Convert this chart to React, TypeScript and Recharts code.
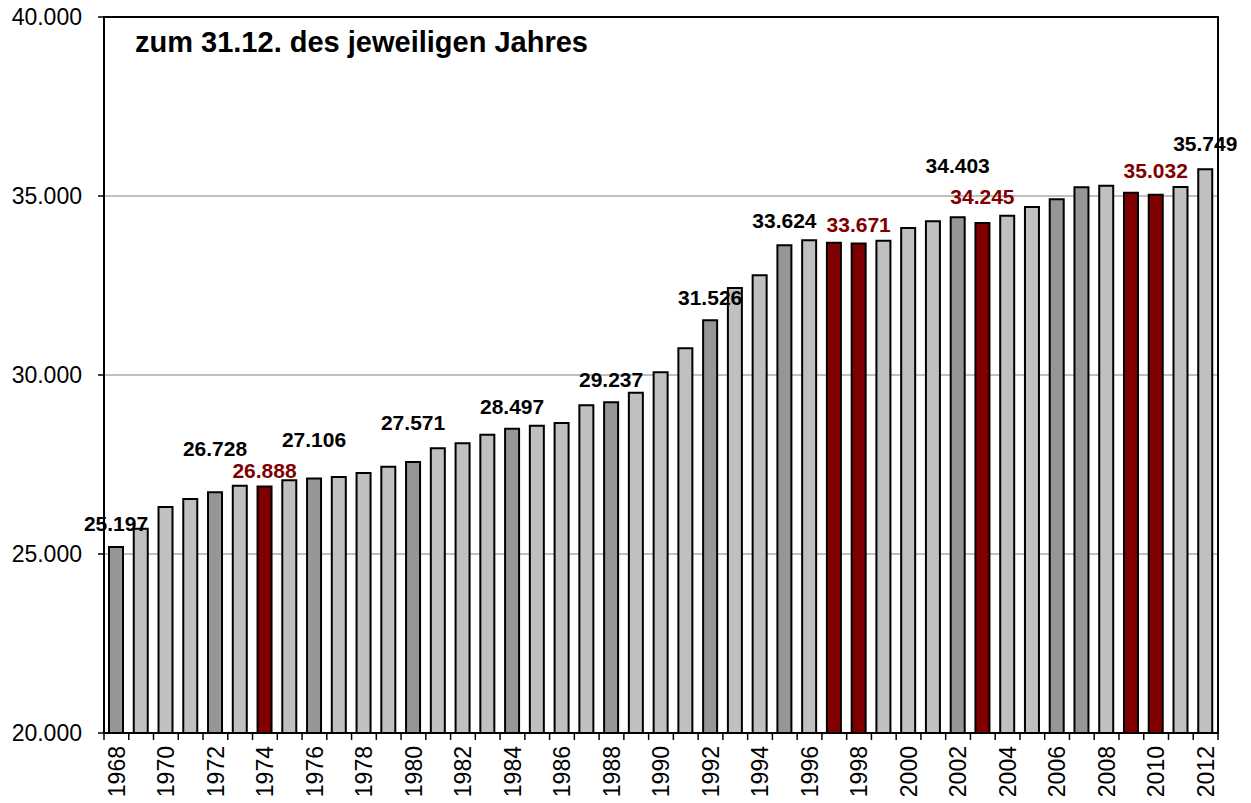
import React from 'react';
import {
  BarChart,
  Bar,
  XAxis,
  YAxis,
  CartesianGrid,
  Cell,
  LabelList,
  ReferenceArea
} from 'recharts';

const YEARS = [
  1968, 1969, 1970, 1971, 1972, 1973, 1974, 1975, 1976, 1977, 1978, 1979,
  1980, 1981, 1982, 1983, 1984, 1985, 1986, 1987, 1988, 1989, 1990, 1991,
  1992, 1993, 1994, 1995, 1996, 1997, 1998, 1999, 2000, 2001, 2002, 2003,
  2004, 2005, 2006, 2007, 2008, 2009, 2010, 2011, 2012
];

const VALUES = [
  25197, 25707, 26313, 26536, 26728, 26908, 26888, 27058, 27106, 27150, 27262, 27439,
  27571, 27952, 28092, 28333, 28497, 28584, 28659, 29153, 29237, 29506, 30075, 30746,
  31526, 32430, 32785, 33624, 33762, 33696, 33671, 33752, 34106, 34293, 34403, 34245,
  34450, 34690, 34907, 35242, 35288, 35092, 35032, 35251, 35749
];

// d = dark grey, l = light grey, r = dark red
const SHADES = [
  'd', 'l', 'l', 'l', 'd', 'l', 'r', 'l', 'd', 'l', 'l', 'l',
  'd', 'l', 'l', 'l', 'd', 'l', 'l', 'l', 'd', 'l', 'l', 'l',
  'd', 'l', 'l', 'd', 'l', 'r', 'r', 'l', 'l', 'l', 'd', 'r',
  'l', 'l', 'd', 'd', 'l', 'r', 'r', 'l', 'l'
];

const LABELLED_YEARS = [1968, 1972, 1974, 1976, 1980, 1984, 1988, 1992, 1995, 1998, 2002, 2003, 2010, 2012];

const Y_TICKS = [20000, 25000, 30000, 35000, 40000];

const FILL: Record<string, string> = { d: '#969696', l: '#c0c0c0', r: '#800000' };
const FONT = '"Liberation Sans", Arial, sans-serif';

// how far (px) the label centre sits above the bar top, as placed in the original
const LIFT: Record<number, number> = {
  1968: 23, 1972: 44, 1974: 16, 1976: 39, 1980: 39, 1984: 22, 1988: 23,
  1992: 23, 1995: 25, 1998: 19, 2002: 52, 2003: 26, 2010: 24, 2012: 26
};

const data = YEARS.map((year, i) => ({
  year: String(year),
  value: VALUES[i],
  shade: SHADES[i],
  labelled: LABELLED_YEARS.includes(year)
}));

const fmt = (v: number) => String(v).replace(/\B(?=(\d{3})+(?!\d))/g, '.');

const WIDTH = 1251;
const HEIGHT = 803;
const MARGIN = { top: 17, right: 33, bottom: 0, left: 0 };
const Y_AXIS_W = 104;
const X_AXIS_H = 70;
const BAND = (WIDTH - MARGIN.right - Y_AXIS_W) / YEARS.length;

const BarLabel = (props: any) => {
  const { x, y, width, index } = props;
  const d = data[index];
  if (!d || !d.labelled) return null;
  const cx = Number(x) + Number(width) / 2;
  const cy = Number(y) - LIFT[Number(d.year)];
  return (
    <text
      x={cx}
      y={cy}
      dy="0.355em"
      textAnchor="middle"
      fontFamily={FONT}
      fontWeight="bold"
      fontSize={21}
      fill={d.shade === 'r' ? '#800000' : '#000'}
    >
      {fmt(d.value)}
    </text>
  );
};

const YearTick = (props: any) => {
  const { x, y, index, payload } = props;
  const tx = Number(x);
  const ty = Number(y);
  return (
    <g>
      {index === 0 && (
        <line x1={tx - BAND / 2} x2={tx - BAND / 2} y1={ty} y2={ty + 7} stroke="#000" strokeWidth={1.5} />
      )}
      <line x1={tx + BAND / 2} x2={tx + BAND / 2} y1={ty} y2={ty + 7} stroke="#000" strokeWidth={1.5} />
      {index % 2 === 0 && (
        <text
          x={tx}
          y={ty + 13}
          dy="0.355em"
          textAnchor="end"
          transform={`rotate(-90, ${tx}, ${ty + 13})`}
          fontFamily={FONT}
          fontSize={23}
          fill="#000"
        >
          {payload.value}
        </text>
      )}
    </g>
  );
};

export default function App() {
  return (
    <div style={{ position: 'absolute', left: 0, top: 0, width: WIDTH, height: HEIGHT, background: '#fff' }}>
      <BarChart width={WIDTH} height={HEIGHT} data={data} margin={MARGIN}>
        <CartesianGrid vertical={false} stroke="#808080" strokeWidth={1} />
        <XAxis
          dataKey="year"
          interval={0}
          height={X_AXIS_H}
          tickSize={0}
          tickMargin={0}
          tickLine={false}
          axisLine={{ stroke: '#000', strokeWidth: 2 }}
          tick={<YearTick />}
        />
        <YAxis
          width={Y_AXIS_W}
          domain={[20000, 40000]}
          ticks={Y_TICKS}
          allowDataOverflow
          tickFormatter={fmt}
          tickSize={6}
          tickMargin={16}
          axisLine={{ stroke: '#000', strokeWidth: 2 }}
          tickLine={{ stroke: '#000', strokeWidth: 1.5 }}
          tick={{ fill: '#000', fontSize: 23, fontFamily: FONT }}
        />
        <Bar dataKey="value" barSize={14} stroke="#000" strokeWidth={2} isAnimationActive={false}>
          {data.map((d) => (
            <Cell key={d.year} fill={FILL[d.shade]} />
          ))}
          <LabelList dataKey="value" content={<BarLabel />} />
        </Bar>
        <ReferenceArea y1={20000} y2={40000} fill="none" fillOpacity={0} stroke="#000" strokeWidth={2} />
      </BarChart>
      <div
        style={{
          position: 'absolute',
          left: 135,
          top: 28,
          fontFamily: FONT,
          fontWeight: 'bold',
          fontSize: 29,
          lineHeight: 1,
          color: '#000',
          whiteSpace: 'nowrap'
        }}
      >
        zum 31.12. des jeweiligen Jahres
      </div>
    </div>
  );
}
